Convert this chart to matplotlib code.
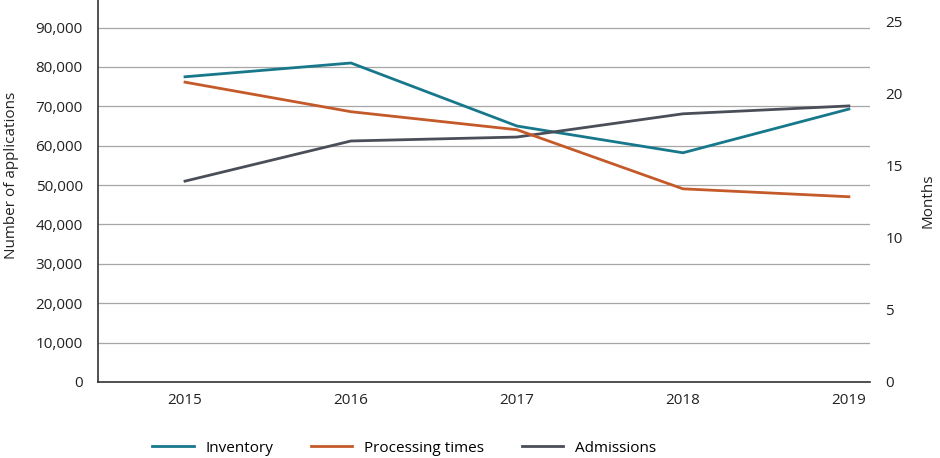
import matplotlib.pyplot as plt
import numpy as np
from matplotlib.ticker import FuncFormatter

plt.rcParams['font.family'] = ['Open Sans', 'DejaVu Sans']

# Data
years = ['2015', '2016', '2017', '2018', '2019']
inventory = [77500, 81000, 65000, 58200, 69300]
admissions = [51000, 61200, 62200, 68100, 70100]
processing_months = [20.8, 18.75, 17.5, 13.4, 12.85]

c_inv = '#17788c'
c_proc = '#c45a2a'
c_adm = '#4a4e58'

fig = plt.figure(figsize=(9.4, 4.58), dpi=100)
ax = fig.add_axes([0.1043, 0.166, 0.8212, 0.834])
ax2 = ax.twinx()

x = np.arange(len(years))
l1, = ax.plot(x, inventory, color=c_inv, lw=2, label='Inventory')
l3, = ax.plot(x, admissions, color=c_adm, lw=2, label='Admissions')
l2, = ax2.plot(x, processing_months, color=c_proc, lw=2, label='Processing times')

ax.set_xlim(-0.524, 4.127)
ax.set_ylim(0, 97000)
ax.set_yticks(np.arange(0, 90001, 10000))
ax.yaxis.set_major_formatter(FuncFormatter(lambda v, p: f'{int(v):,}'))
ax.yaxis.grid(True, color='#a6a6a6', lw=0.9)
ax.set_axisbelow(True)
ax.set_xticks(x)
ax.set_xticklabels(years)

ax2.set_ylim(0, 26.5)
ax2.set_yticks([0, 5, 10, 15, 20, 25])

for a in (ax, ax2):
    for s in ['top', 'right']:
        a.spines[s].set_visible(False)
    a.tick_params(length=0, labelsize=11, colors='#222222')
ax2.spines['left'].set_visible(False)
ax2.spines['bottom'].set_visible(False)
ax.spines['left'].set_color('#333333')
ax.spines['bottom'].set_color('#333333')
ax.spines['left'].set_linewidth(1.2)
ax.spines['bottom'].set_linewidth(1.2)
ax.tick_params(axis='y', pad=11)
ax.tick_params(axis='x', pad=8)
ax2.tick_params(axis='y', pad=11)

ax.set_ylabel('Number of applications', fontsize=11, color='#222222')
ax.yaxis.set_label_coords(-0.102, 0.54)
ax2.set_ylabel('Months', fontsize=11, color='#222222')
ax2.yaxis.set_label_coords(1.066, 0.475)

fig.legend([l1, l2, l3], ['Inventory', 'Processing times', 'Admissions'],
           loc='lower center', bbox_to_anchor=(0.43, -0.025), ncol=3, frameon=False,
           fontsize=11, handlelength=2.7, columnspacing=2.5, handletextpad=0.75)

plt.savefig('out.png', dpi=100)
